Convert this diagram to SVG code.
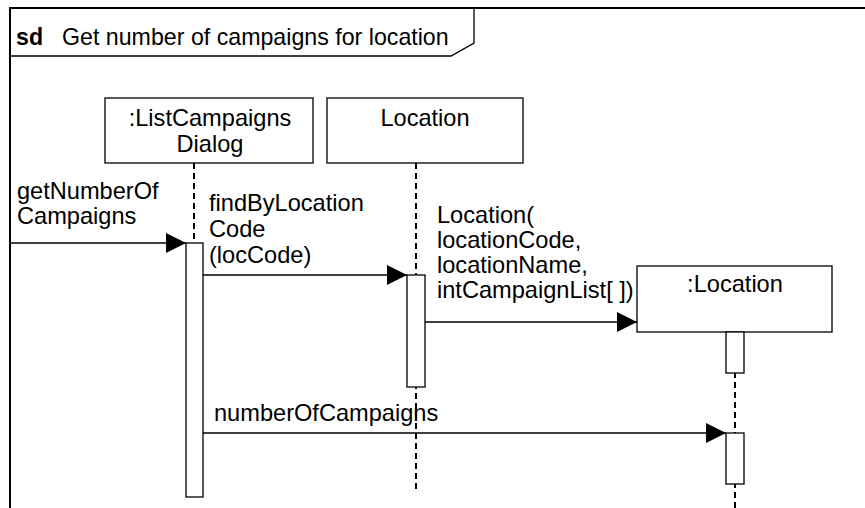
<svg xmlns="http://www.w3.org/2000/svg" width="865" height="508" viewBox="0 0 865 508">
<defs>
<style>
.t{font-family:"Liberation Sans",Arial,sans-serif;font-size:23.6px;fill:#000}
.h{font-size:23.2px}
.c{text-anchor:middle}
.b{font-weight:bold}
.box{fill:#fff;stroke:#000;stroke-width:1.3}
.life{stroke:#000;stroke-width:2;stroke-dasharray:6 4;fill:none}
.msg{stroke:#000;stroke-width:1.5;fill:none}
</style>
<marker id="ah" viewBox="0 0 20 20" refX="20" refY="10" markerWidth="20" markerHeight="20" markerUnits="userSpaceOnUse" orient="auto">
<path d="M0,0 L20,10 L0,20 Z" fill="#000"/>
</marker>
</defs>
<rect width="865" height="508" fill="#fff"/>
<g id="frame">
<path d="M10,508 L10,8 L865,8" fill="none" stroke="#000" stroke-width="2"/>
<path d="M10,56 L451,56 L474,43 L474,8" fill="none" stroke="#000" stroke-width="1.3"/>
<text class="t h b" x="16" y="45">sd</text>
<text class="t h" x="62" y="45">Get number of campaigns for location</text>
</g>
<g id="lifelines">
<line class="life" x1="194" y1="163" x2="194" y2="243"/>
<line class="life" x1="416" y1="163" x2="416" y2="493"/>
<line class="life" x1="735" y1="332" x2="735" y2="508"/>
</g>
<g id="listCampaignsDialog">
<rect class="box" x="105" y="98" width="208" height="65"/>
<text class="t c" x="210" y="126">:ListCampaigns</text>
<text class="t c" x="210" y="152">Dialog</text>
<rect class="box" x="186" y="243" width="17" height="254"/>
</g>
<g id="locationClass">
<rect class="box" x="327" y="98" width="196" height="65"/>
<text class="t c" x="425" y="126">Location</text>
<rect class="box" x="407" y="275" width="18" height="112"/>
</g>
<g id="locationObject">
<rect class="box" x="637" y="266" width="195" height="66"/>
<text class="t c" x="735" y="292">:Location</text>
<rect class="box" x="726" y="332" width="18" height="41"/>
<rect class="box" x="726" y="433" width="18" height="51"/>
</g>
<g id="connectors">
<line class="msg" x1="10" y1="243" x2="186" y2="243" marker-end="url(#ah)"/>
<line class="msg" x1="203" y1="275" x2="407" y2="275" marker-end="url(#ah)"/>
<line class="msg" x1="425" y1="322" x2="637" y2="322" marker-end="url(#ah)"/>
<line class="msg" x1="203" y1="433" x2="726" y2="433" marker-end="url(#ah)"/>
<text class="t" x="17" y="199">getNumberOf</text>
<text class="t" x="17" y="224">Campaigns</text>
<text class="t" x="209" y="211">findByLocation</text>
<text class="t" x="209" y="237">Code</text>
<text class="t" x="209" y="263">(locCode)</text>
<text class="t" x="437" y="223">Location(</text>
<text class="t" x="437" y="248">locationCode,</text>
<text class="t" x="437" y="273">locationName,</text>
<text class="t" x="437" y="298">intCampaignList[ ])</text>
<text class="t" x="214" y="421">numberOfCampaigns</text>
</g>
</svg>
